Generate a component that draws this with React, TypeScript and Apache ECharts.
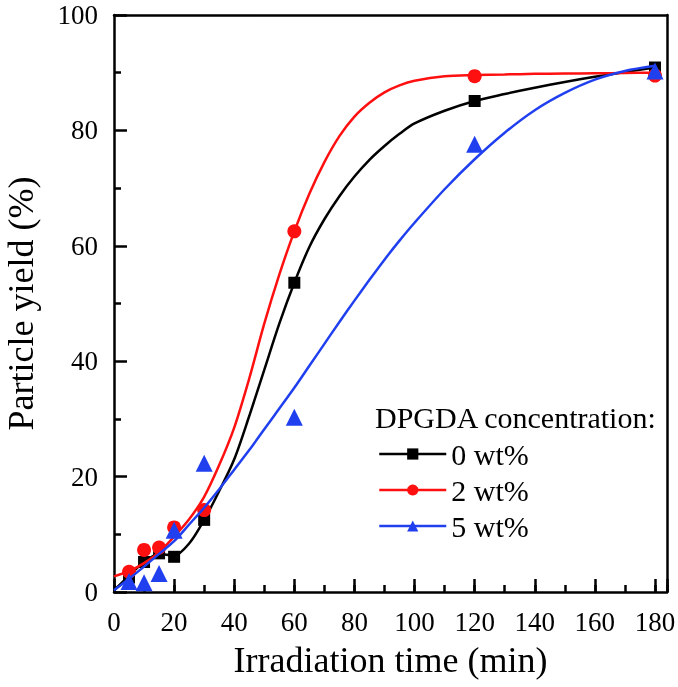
import React, { useEffect, useRef } from 'react';
import * as echarts from 'echarts';

const FONT = "'Liberation Serif', 'Times New Roman', serif";

// measured data points (x = irradiation time, min)
const pointX = [5, 10, 15, 20, 30, 60, 120, 180];
const pts0 = [2.5, 5.2, 6.7, 6.1, 12.5, 53.6, 85.1, 90.9];
const pts2 = [3.5, 7.3, 7.7, 11.2, 14.2, 62.5, 89.4, 89.5];
const pts5 = [1.8, 1.6, 3.2, 10.7, 22.3, 30.3, 77.6, 90.3];

// fitted curves
const curveX = [0, 5, 10, 15, 20, 25, 30, 35, 40, 45, 50, 55, 60, 65, 70, 75, 80, 85, 90, 95, 100, 110, 120, 130, 140, 150, 160, 170, 180];
const curve0 = [0.3, 2.8, 5.2, 6.6, 6.3, 8.4, 12.5, 17.5, 23, 30.5, 38.5, 46.5, 53.6, 59.8, 64.6, 68.6, 72.0, 74.9, 77.3, 79.4, 81.2, 83.4, 85.1, 86.3, 87.4, 88.4, 89.3, 90.1, 90.9];
const curve2 = [2.7, 3.6, 5.0, 6.9, 9.6, 12.6, 16.5, 22, 28.5, 37, 46.5, 55, 62.5, 69, 74.5, 79, 82.4, 84.8, 86.6, 87.8, 88.6, 89.4, 89.6, 89.7, 89.8, 89.85, 89.9, 89.95, 90];
const curve5 = [0.3, 2.3, 4.4, 6.6, 8.8, 11.7, 14.6, 17.8, 21.2, 24.6, 28.2, 31.8, 35.4, 39.2, 43, 46.8, 50.5, 54.1, 57.6, 60.9, 64, 69.8, 75, 79.6, 83.5, 86.5, 88.8, 90.3, 91.2];

const seriesNames = ['0 wt%', '2 wt%', '5 wt%'];
const legendTitle = 'DPGDA concentration:';
const xName = 'Irradiation time (min)';
const yName = 'Particle yield (%)';

const colors = ['#000000', '#ff1010', '#2040f0'];
const symbols = ['rect', 'circle', 'triangle'];
const symbolSizes = [12, 14, 17];

export default function App() {
  const ref = useRef<HTMLDivElement>(null);
  useEffect(() => {
    if (!ref.current) return;
    const chart = echarts.init(ref.current, undefined, { renderer: 'svg' });
    const curves = [curve0, curve2, curve5];
    const pts = [pts0, pts2, pts5];
    const series: any[] = [];
    for (let k = 0; k < 3; k++) {
      series.push({
        type: 'line',
        name: seriesNames[k],
        data: curveX.map((x, i) => [x, curves[k][i]]),
        smooth: 0.3,
        symbol: symbols[k],
        showSymbol: false,
        lineStyle: { color: colors[k], width: 2.5 },
        itemStyle: { color: colors[k] },
        z: 2 + k * 2,
        silent: true,
      });
      series.push({
        type: 'scatter',
        name: seriesNames[k] + ' data',
        data: pointX.map((x, i) => [x, pts[k][i]]),
        symbol: symbols[k],
        symbolSize: symbolSizes[k],
        itemStyle: { color: colors[k], opacity: 1 },
        z: 3 + k * 2,
        silent: true,
      });
    }
    const axisLine = { show: true, onZero: false, lineStyle: { color: '#000', width: 2.5 } };
    chart.setOption({
      animation: false,
      grid: { left: 114, right: 11, top: 15, bottom: 95, containLabel: false, outerBoundsMode: 'none' },
      xAxis: [
        {
          type: 'value', min: 0, max: 184, interval: 20, position: 'bottom',
          axisLine,
          axisTick: { show: true, inside: true, length: 13, lineStyle: { color: '#000', width: 2.5 } },
          splitLine: { show: false },
          axisLabel: {
            fontSize: 27, fontFamily: FONT, color: '#000', margin: 16,
            formatter: (v: number) => (v % 20 === 0 ? String(v) : ''),
          },
          name: xName, nameLocation: 'middle', nameGap: 50,
          nameTextStyle: { fontSize: 36, fontFamily: FONT, color: '#000' },
        },
        {
          type: 'value', min: 0, max: 184, interval: 10, position: 'bottom',
          axisLine: { show: false },
          axisTick: { show: true, inside: true, length: 7, lineStyle: { color: '#000', width: 2.5 } },
          axisLabel: { show: false },
          splitLine: { show: false },
        },
        {
          type: 'value', min: 0, max: 184, position: 'top',
          axisLine, axisTick: { show: false }, axisLabel: { show: false }, splitLine: { show: false },
        },
      ],
      yAxis: [
        {
          type: 'value', min: 0, max: 100, interval: 20, position: 'left',
          axisLine,
          axisTick: { show: true, inside: true, length: 13, lineStyle: { color: '#000', width: 2.5 } },
          minorTick: { show: true, splitNumber: 2, length: 7, lineStyle: { color: '#000', width: 2.5 } },
          splitLine: { show: false },
          axisLabel: { fontSize: 27, fontFamily: FONT, color: '#000', margin: 16 },
          name: yName, nameLocation: 'middle', nameGap: 75,
          nameTextStyle: { fontSize: 36, fontFamily: FONT, color: '#000' },
        },
        {
          type: 'value', min: 0, max: 100, position: 'right',
          axisLine, axisTick: { show: false }, axisLabel: { show: false }, splitLine: { show: false },
        },
      ],
      legend: {
        data: seriesNames,
        orient: 'vertical',
        left: 373,
        top: 434,
        itemWidth: 67,
        itemHeight: 14,
        itemGap: 6,
        lineStyle: { width: 2.5 },
        textStyle: { fontSize: 30, fontFamily: FONT, color: '#000' },
        selectedMode: false,
      },
      graphic: [
        {
          type: 'text',
          x: 375,
          y: 417,
          style: { text: legendTitle, font: `30px ${FONT}`, fill: '#000', verticalAlign: 'middle', align: 'left' },
        },
      ],
      series,
    });
    return () => chart.dispose();
  }, []);
  return <div ref={ref} style={{ position: 'fixed', left: 0, top: 0, width: 678, height: 687 }} />;
}
